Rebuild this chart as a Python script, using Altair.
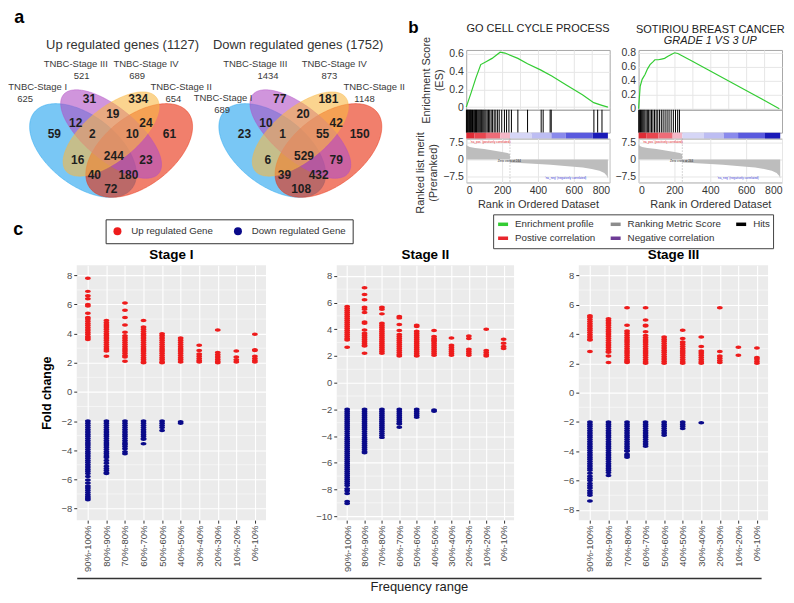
import altair as alt
import numpy as np
import pandas as pd

FONT = "Liberation Sans"

# ======================= DATA =======================
# ---- panel a : Venn diagrams
VENN_SETS = ["TNBC-Stage I", "TNBC-Stage III", "TNBC-Stage IV", "TNBC-Stage II"]
UP_SET_SIZES = [625, 521, 689, 654]
DOWN_SET_SIZES = [689, 1434, 873, 1148]
UP_REGION_COUNTS = [59, 31, 334, 61, 12, 19, 24, 2, 10, 244, 16, 23, 40, 180, 72]
DOWN_REGION_COUNTS = [23, 77, 181, 150, 10, 20, 42, 1, 55, 529, 6, 79, 39, 432, 108]
VENN_TITLES = ["Up regulated genes (1127)", "Down regulated genes (1752)"]

# ---- panel b : GSEA
GSEA1_TITLE = "GO CELL CYCLE PROCESS"
GSEA2_TITLE = "SOTIRIOU BREAST CANCER"
GSEA2_SUBTITLE = "GRADE 1 VS 3 UP"
ES1_RANK = [0, 27, 54, 81, 108, 144, 189, 216, 288, 342, 414, 477, 558, 648, 711, 757, 790]
ES1_SCORE = [0.0, 0.16, 0.33, 0.48, 0.51, 0.55, 0.62, 0.61, 0.55, 0.49, 0.42, 0.35, 0.25, 0.14, 0.05, 0.02, 0.0]
ES2_RANK = [0, 9, 20, 36, 50, 64, 80, 91, 110, 128, 145, 164, 185, 201, 219, 300, 400, 500, 600, 700, 785]
ES2_SCORE = [0.0, 0.32, 0.42, 0.49, 0.57, 0.63, 0.67, 0.70, 0.70, 0.71, 0.72, 0.75, 0.78, 0.80, 0.79,
             0.68, 0.54, 0.40, 0.26, 0.12, 0.0]
HITS1 = [1, 4, 8, 11, 15, 19, 23, 26, 30, 35, 39, 44, 48, 52, 57, 61, 66, 71, 76, 81, 86, 92, 98, 104,
         110, 117, 124, 131, 139, 147, 156, 165, 175, 184, 198, 213, 225, 238, 252, 288, 342, 418, 429,
         468, 474, 712, 733, 757]
HITS2 = [1, 6, 11, 17, 23, 29, 35, 42, 49, 56, 64, 72, 80, 89, 98, 107, 117, 127, 137, 148, 159, 170,
         182, 194, 206, 218, 228]
CBAR_START = [0, 45, 110, 190, 244, 365, 475, 555, 705]
CBAR_END = [45, 110, 190, 244, 365, 475, 555, 705, 790]
CBAR_LEVEL = [4, 3, 2, 1, -0.5, -1, -2, -3, -4]
METRIC_RANK = [0, 5, 20, 50, 100, 150, 200, 230, 243, 244, 300, 400, 470, 550, 650, 700, 743, 770, 785, 790]
METRIC_VALUE = [6.6, 6.0, 5.5, 5.0, 4.6, 3.9, 3.3, 2.8, 2.4, -1.4, -1.6, -2.0, -2.4, -2.9, -3.6, -4.2,
                -5.0, -6.0, -7.3, -8.5]
GSEA_LEGEND = ["Enrichment profile", "Ranking Metric Score", "Hits", "Postive correlation",
               "Negative correlation"]
GSEA_NOTES = ["'na_pos' (positively correlated)", "Zero cross at 244", "'na_neg' (negatively correlated)"]
NOTE_RANK = [135, 240, 555]
NOTE_METRIC = [7.6, -0.8, -8.4]

# ---- panel c : strip plots
FREQ_CATS = ["90%-100%", "80%-90%", "70%-80%", "60%-70%", "50%-60%", "40%-50%", "30%-40%",
             "20%-30%", "10%-20%", "0%-10%"]
GENE_TYPES = ["Up regulated Gene", "Down regulated Gene"]

STAGE1_UP = [
    [7.8, 6.9, 6.6, 6.4, 6.0, 5.9, 5.4, 5.1, 5.0, 4.85, 4.7, 4.55, 4.4, 4.25, 4.1, 3.95, 3.8, 3.7, 3.6],
    [4.9, 4.75, 4.6, 4.45, 4.3, 4.15, 4.0, 3.85, 3.7, 3.55, 3.4, 3.25, 3.1, 2.95, 2.8, 2.45],
    [6.1, 5.6, 5.1, 4.6, 4.1, 3.85, 3.7, 3.55, 3.4, 3.25, 3.1, 2.95, 2.8, 2.65, 2.5, 2.4, 2.1],
    [4.9, 4.45, 4.3, 4.15, 4.0, 3.85, 3.7, 3.55, 3.4, 3.25, 3.1, 2.95, 2.8, 2.65, 2.5, 2.35, 2.2, 2.05, 2.0],
    [4.0, 3.85, 3.7, 3.55, 3.4, 3.25, 3.1, 2.95, 2.8, 2.65, 2.5, 2.35, 2.2, 2.05, 2.0],
    [3.7, 3.55, 3.4, 3.25, 3.1, 2.95, 2.8, 2.65, 2.5, 2.35, 2.2, 2.05],
    [3.2, 2.85, 2.6, 2.45, 2.3, 2.15, 2.05],
    [4.25, 2.7, 2.55, 2.4, 2.25, 2.1, 2.0],
    [2.8, 2.4, 2.2, 2.05],
    [3.95, 2.9, 2.85, 2.45, 2.3, 2.15, 2.05],
]
STAGE1_DOWN = [
    [-2.0, -2.15, -2.3, -2.45, -2.6, -2.75, -2.9, -3.05, -3.2, -3.35, -3.5, -3.65, -3.8, -3.95, -4.1,
     -4.25, -4.4, -4.55, -4.7, -4.85, -5.0, -5.15, -5.3, -5.45, -5.6, -5.8, -6.05, -6.25, -6.45, -6.6,
     -6.75, -6.9, -7.05, -7.2, -7.3, -7.4],
    [-2.0, -2.15, -2.3, -2.45, -2.6, -2.75, -2.9, -3.05, -3.2, -3.35, -3.5, -3.65, -3.8, -3.95, -4.1,
     -4.25, -4.4, -4.5, -4.7, -4.9, -5.1, -5.25, -5.4, -5.55, -5.6],
    [-2.0, -2.15, -2.3, -2.45, -2.6, -2.75, -2.9, -3.05, -3.2, -3.35, -3.5, -3.6, -3.75, -3.9, -4.1, -4.25],
    [-2.0, -2.15, -2.3, -2.45, -2.6, -2.75, -2.9, -3.05, -3.2, -3.25, -3.55],
    [-2.0, -2.15, -2.3, -2.45, -2.65],
    [-2.05, -2.15],
    [], [], [], [],
]
STAGE2_UP = [
    [5.7, 5.55, 5.4, 5.25, 5.1, 4.95, 4.8, 4.65, 4.5, 4.35, 4.2, 4.05, 3.9, 3.75, 3.6, 3.45, 3.3, 3.2, 2.65],
    [7.1, 6.6, 6.2, 5.65, 5.5, 5.25, 4.55, 4.45, 3.95, 3.7, 3.55, 3.4, 3.25, 3.1, 2.95, 2.8, 2.75, 2.2],
    [5.65, 5.5, 5.15, 4.45, 4.3, 4.15, 4.0, 3.85, 3.7, 3.55, 3.4, 3.25, 3.1, 2.95, 2.8, 2.65, 2.5, 2.35, 2.2],
    [4.95, 4.85, 4.35, 3.9, 3.6, 3.45, 3.3, 3.15, 3.0, 2.85, 2.7, 2.55, 2.4, 2.25, 2.1, 2.0],
    [4.3, 4.2, 3.85, 3.7, 3.55, 3.4, 3.25, 3.1, 2.95, 2.8, 2.65, 2.5, 2.35, 2.2, 2.05, 2.0],
    [3.9, 3.45, 3.3, 3.2, 3.1, 2.95, 2.8, 2.65, 2.5, 2.35, 2.2, 2.05],
    [3.35, 2.8, 2.65, 2.5, 2.35, 2.2, 2.05],
    [3.5, 3.3, 2.5, 2.35, 2.2, 2.05],
    [4.0, 2.4, 2.25, 2.1, 2.0],
    [3.25, 2.95, 2.7, 2.55],
]
STAGE2_DOWN = [
    [-2.0, -2.15, -2.3, -2.45, -2.6, -2.75, -2.9, -3.05, -3.2, -3.35, -3.5, -3.65, -3.8, -3.95, -4.1,
     -4.25, -4.4, -4.55, -4.7, -4.85, -5.0, -5.15, -5.3, -5.45, -5.6, -5.75, -5.9, -6.05, -6.2, -6.35,
     -6.5, -6.65, -6.8, -6.95, -7.1, -7.25, -7.4, -7.55, -7.7, -7.95, -8.1, -8.3, -8.9, -9.05],
    [-2.0, -2.15, -2.3, -2.45, -2.6, -2.75, -2.9, -3.05, -3.2, -3.35, -3.5, -3.65, -3.8, -3.95, -4.1,
     -4.25, -4.4, -4.55, -4.7, -4.85, -5.0, -5.15, -5.25],
    [-2.0, -2.15, -2.3, -2.45, -2.6, -2.75, -2.9, -3.05, -3.2, -3.35, -3.5, -3.65, -3.8, -3.95, -4.1],
    [-2.0, -2.15, -2.3, -2.45, -2.6, -2.75, -2.9, -3.05, -3.1, -3.35],
    [-2.0, -2.15, -2.3, -2.45, -2.6],
    [-2.05, -2.15],
    [], [], [], [],
]
STAGE3_UP = [
    [5.25, 5.15, 5.0, 4.85, 4.7, 4.55, 4.4, 4.25, 4.1, 3.95, 3.8, 3.65, 3.6, 2.8],
    [5.05, 4.9, 4.75, 4.6, 4.45, 4.3, 4.15, 4.0, 3.85, 3.7, 3.55, 3.4, 3.25, 3.1, 2.95, 2.8, 2.75, 2.5, 2.05],
    [5.8, 4.6, 4.2, 4.05, 3.9, 3.75, 3.6, 3.45, 3.3, 3.15, 3.0, 2.85, 2.7, 2.55, 2.4, 2.25, 2.15, 2.05],
    [5.8, 4.95, 4.6, 4.55, 4.15, 3.9, 3.75, 3.6, 3.45, 3.3, 3.15, 3.0, 2.85, 2.7, 2.55, 2.4, 2.25, 2.1, 2.0],
    [3.8, 3.65, 3.5, 3.35, 3.2, 3.05, 2.9, 2.75, 2.6, 2.45, 2.3, 2.15, 2.0],
    [4.25, 3.7, 3.45, 3.3, 3.15, 3.0, 2.85, 2.7, 2.55, 2.4, 2.25, 2.1, 2.0],
    [3.8, 3.15, 2.85, 2.7, 2.55, 2.4, 2.25, 2.1, 2.0],
    [5.8, 2.8, 2.5, 2.35, 2.2, 2.05],
    [3.1, 2.55],
    [3.05, 2.4, 2.3, 2.15, 2.0],
]
STAGE3_DOWN = [
    [-2.0, -2.15, -2.3, -2.45, -2.6, -2.75, -2.9, -3.05, -3.2, -3.35, -3.5, -3.65, -3.8, -3.95, -4.1,
     -4.25, -4.4, -4.55, -4.7, -4.85, -5.0, -5.15, -5.3, -5.5, -5.7, -5.85, -6.0, -6.2, -6.35, -6.5,
     -6.7, -6.85, -7.0, -7.4],
    [-2.0, -2.15, -2.3, -2.45, -2.6, -2.75, -2.9, -3.05, -3.2, -3.35, -3.5, -3.65, -3.8, -3.95, -4.1,
     -4.25, -4.4, -4.55, -4.7, -4.85, -5.0, -5.15, -5.3, -5.45, -5.65],
    [-2.0, -2.15, -2.3, -2.45, -2.6, -2.75, -2.9, -3.05, -3.2, -3.35, -3.5, -3.65, -3.8, -3.95, -4.0,
     -4.2, -4.3, -4.4],
    [-2.0, -2.15, -2.3, -2.45, -2.6, -2.75, -2.9, -3.05, -3.2, -3.35, -3.5, -3.65],
    [-2.0, -2.15, -2.3, -2.45, -2.6, -2.75, -2.9],
    [-2.0, -2.15, -2.3, -2.45],
    [-2.05],
    [], [], [],
]

# ======================= LAYOUT / STYLE =======================
# Venn geometry: VennDiagram quad layout in the unit square (cx, cy, a, b, rotation)
ELLIPSES = {
    "TNBC-Stage I": (0.35, 0.47, 0.35, 0.20, 135),
    "TNBC-Stage II": (0.65, 0.47, 0.35, 0.20, 45),
    "TNBC-Stage III": (0.50, 0.57, 0.35, 0.15, 135),
    "TNBC-Stage IV": (0.50, 0.57, 0.33, 0.15, 45),
}
VENN_COLORS = ["#1FA2EF", "#B04FC4", "#F8B845", "#E82A0A"]
VENN_OFFSETS = [0, 194]
REGION_XY = [(46, 124), (82, 89), (132, 89), (164, 124), (68, 113), (106, 104), (140, 113), (85, 124),
             (126, 124), (107, 146), (70, 150), (140, 150), (87, 166), (122, 166), (104, 180)]
REGION_DX = 195
SET_NAME_XY = [[(29, 77), (68, 54), (140, 54), (176, 77)], [(219, 88), (252, 54), (333, 54), (374, 77)]]
SET_SIZE_XY = [[(16, 89), (74, 66), (131, 66), (168, 89)], [(218, 100), (265, 66), (328, 66), (364, 89)]]
VENN_TITLE_XY = [(116, 35), (296, 35)]
PA_X0, PA_X1, PA_Y0, PA_Y1 = 69, 406, 40, 195   # panel-a frame (aligned with Stage I / GSEA plot origins)

GSEA_COLORS = ["#33CC33", "#8C8C8C", "#000000", "#E8252C", "#6E3C96"]
CBAR_DOMAIN = [-4, -3, -2, -1, -0.5, 1, 2, 3, 4]
CBAR_RANGE = ["#1A1AB8", "#5A5ADE", "#8A8AEC", "#BDBDF2", "#D6D6F6", "#F4B6C6", "#EE6C78", "#E8464F",
              "#DE2C36"]
GENE_COLORS = ["#EE1C1C", "#0A0A8A"]
DOT = "M -1 0 A 1 0.6 0 1 1 1 0 A 1 0.6 0 1 1 -1 0 Z"

# ======================= PANEL A =======================
ell_rows = []
for vi, off in enumerate(VENN_OFFSETS):
    for name in ["TNBC-Stage I", "TNBC-Stage II", "TNBC-Stage III", "TNBC-Stage IV"]:
        cx, cy, a, b, rot = ELLIPSES[name]
        t = np.radians(rot)
        c, s = np.cos(t), np.sin(t)
        hw = np.sqrt(a * a * c * c + b * b * s * s)
        A = s * s / (a * a) + c * c / (b * b)
        for phi in np.linspace(np.pi, 0, 121):
            dx = hw * np.cos(phi)
            B = 2 * dx * c * s * (1 / (a * a) - 1 / (b * b))
            C = dx * dx * (c * c / (a * a) + s * s / (b * b)) - 1
            r = np.sqrt(max(B * B - 4 * A * C, 0.0))
            hi = (-B + r) / (2 * A)
            lo = (-B - r) / (2 * A)
            ell_rows.append({
                "key": f"{vi}-{name}", "set": name,
                "x": 20.7 + (cx + dx - 0.065) * 192 + off,
                "y": 80 + (0.839 - (cy + hi)) * 165,
                "y2": 80 + (0.839 - (cy + lo)) * 165,
            })
ell_df = pd.DataFrame(ell_rows)

count_rows = []
for vi, counts in enumerate([UP_REGION_COUNTS, DOWN_REGION_COUNTS]):
    for (px, py), n in zip(REGION_XY, counts):
        count_rows.append({"x": px + vi * REGION_DX, "y": py, "t": str(n)})
count_df = pd.DataFrame(count_rows)

lab_rows = []
for vi, sizes in enumerate([UP_SET_SIZES, DOWN_SET_SIZES]):
    for k, (name, size) in enumerate(zip(VENN_SETS, sizes)):
        lab_rows.append({"x": SET_NAME_XY[vi][k][0], "y": SET_NAME_XY[vi][k][1], "t": name})
        lab_rows.append({"x": SET_SIZE_XY[vi][k][0], "y": SET_SIZE_XY[vi][k][1], "t": str(size)})
lab_df = pd.DataFrame(lab_rows)
vt_df = pd.DataFrame({"x": [p[0] for p in VENN_TITLE_XY], "y": [p[1] for p in VENN_TITLE_XY],
                      "t": VENN_TITLES})

vx = alt.Scale(domain=[PA_X0, PA_X1], nice=False, zero=False)
vy = alt.Scale(domain=[PA_Y0, PA_Y1], nice=False, zero=False, reverse=True)

ell_layer = alt.Chart(ell_df).mark_area(fillOpacity=0.6, strokeWidth=0.8, strokeOpacity=0.55,
                                        interpolate="linear").encode(
    x=alt.X("x:Q", scale=vx, axis=None),
    y=alt.Y("y:Q", scale=vy, axis=None),
    y2="y2:Q",
    color=alt.Color("set:N", scale=alt.Scale(domain=VENN_SETS, range=VENN_COLORS), legend=None),
    stroke=alt.Stroke("set:N", scale=alt.Scale(domain=VENN_SETS, range=VENN_COLORS), legend=None),
    detail="key:N",
)
count_layer = alt.Chart(count_df).mark_text(fontSize=12, fontWeight="bold", color="#1E1E1E").encode(
    x=alt.X("x:Q", scale=vx, axis=None), y=alt.Y("y:Q", scale=vy, axis=None), text="t:N")
lab_layer = alt.Chart(lab_df).mark_text(fontSize=9.5, color="#3A3A3A").encode(
    x=alt.X("x:Q", scale=vx, axis=None), y=alt.Y("y:Q", scale=vy, axis=None), text="t:N")
vt_layer = alt.Chart(vt_df).mark_text(fontSize=13, color="#333333").encode(
    x=alt.X("x:Q", scale=vx, axis=None), y=alt.Y("y:Q", scale=vy, axis=None), text="t:N")

panel_a = alt.layer(ell_layer, count_layer, lab_layer, vt_layer).properties(
    width=round((PA_X1 - PA_X0) * 0.98), height=PA_Y1 - PA_Y0,
    title=alt.TitleParams("a", anchor="start", fontSize=18, fontWeight="bold", dx=6, offset=12,
                          color="black"),
)

# ======================= PANEL B =======================
xsc = alt.Scale(domain=[0, 800], nice=False, zero=False)
GRID = "#E6E6E6"
FRAME = alt.ViewBackground(stroke="#A8A8A8", strokeWidth=1)
gsea_legend = alt.Legend(orient="none", legendX=27, legendY=165, direction="horizontal", columns=3,
                         title=None, symbolType="stroke", symbolStrokeWidth=3.5, symbolSize=100,
                         labelFontSize=9.8, labelColor="#333333", labelOffset=5, columnPadding=8,
                         rowPadding=-2, padding=3, strokeColor="#444444", fillColor="white",
                         labelLimit=200)
gsea_color = alt.Scale(domain=GSEA_LEGEND, range=GSEA_COLORS)

cbar_df = pd.DataFrame({"start": CBAR_START, "end": CBAR_END, "level": CBAR_LEVEL})
metric_df = pd.DataFrame({"rank": METRIC_RANK, "metric": METRIC_VALUE})
note_df = pd.DataFrame({"rank": NOTE_RANK, "metric": NOTE_METRIC, "t": GSEA_NOTES,
                        "c": ["#E8252C", "#222222", "#3A3AD8"]})


def gsea_panel(es_rank, es_score, hits, es_dom, es_vals, title, subtitle, width, show_titles):
    es_df = pd.DataFrame({"rank": es_rank, "es": es_score, "series": GSEA_LEGEND[0]})
    yax = dict(values=es_vals, labelExpr="datum.value == 0 ? '0' : format(datum.value, '.1f')",
               ticks=False, domain=False, grid=True, gridColor=GRID, labelFontSize=10.5,
               labelColor="#333333", labelPadding=3)
    if show_titles:
        yax.update(title=["Enrichment Score", "(ES)"], titleFontSize=11, titleFontWeight="normal",
                   titleColor="#333333", titlePadding=4)
    else:
        yax["title"] = None
    tkw = dict(fontSize=11, fontWeight="normal", color="#222222", anchor="middle", frame="group",
               offset=2, lineHeight=11)
    if subtitle:
        tkw.update(subtitle=subtitle, subtitleFontSize=11, subtitleColor="#222222",
                   subtitleFontStyle="italic", subtitlePadding=0, subtitleLineHeight=11)
    es = alt.Chart(es_df).mark_line(strokeWidth=1.2).encode(
        x=alt.X("rank:Q", scale=xsc, axis=alt.Axis(labels=False, ticks=False, domain=False, grid=True,
                                                   gridColor=GRID, values=[100, 200, 300, 400, 500, 600, 700],
                                                   title=None)),
        y=alt.Y("es:Q", scale=alt.Scale(domain=es_dom, nice=False, zero=False), axis=alt.Axis(**yax)),
        color=alt.Color("series:N", scale=gsea_color, legend=gsea_legend),
    ).properties(width=width, height=60, view=FRAME, title=alt.TitleParams(title, **tkw))
    hit = alt.Chart(pd.DataFrame({"rank": hits})).mark_rule(color="black", strokeWidth=1).encode(
        x=alt.X("rank:Q", scale=xsc, axis=None)).properties(width=width, height=23, view=FRAME)
    cbar = alt.Chart(cbar_df).mark_rect().encode(
        x=alt.X("start:Q", scale=xsc, axis=None), x2="end:Q",
        fill=alt.Fill("level:Q", scale=alt.Scale(domain=CBAR_DOMAIN, range=CBAR_RANGE), legend=None),
    ).properties(width=width, height=6)
    rax = dict(values=[-7.5, 0, 7.5], labelExpr="datum.value == 0 ? '0' : format(datum.value, '.1f')",
               ticks=False, domain=False, grid=True, gridColor=GRID, labelFontSize=10.5,
               labelColor="#333333", labelPadding=3)
    if show_titles:
        rax.update(title=["Ranked list merit", "(Preranked)"], titleFontSize=11, titleFontWeight="normal",
                   titleColor="#333333", titlePadding=4, titleY=34)
    else:
        rax["title"] = None
    rx = alt.X("rank:Q", scale=xsc,
               axis=alt.Axis(values=[0, 200, 400, 600, 800], ticks=False, domain=False, grid=True,
                             gridColor=GRID, labelFontSize=10.5, labelColor="#333333", labelPadding=3,
                             title="Rank in Ordered Dataset", titleFontSize=11, titleFontWeight="normal",
                             titleColor="#333333", titlePadding=3))
    ry = alt.Scale(domain=[-10.2, 9.2], nice=False, zero=False)
    area = alt.Chart(metric_df).mark_area(color="#BDBDBD", interpolate="linear").encode(
        x=rx, y=alt.Y("metric:Q", scale=ry, axis=alt.Axis(**rax)), y2=alt.datum(0))
    zero = alt.Chart(pd.DataFrame({"rank": [244]})).mark_rule(color="#9A9A9A", strokeDash=[1, 2],
                                                              strokeWidth=0.8).encode(x=rx)
    notes = alt.Chart(note_df).mark_text(fontSize=3).encode(
        x=rx, y=alt.Y("metric:Q", scale=ry, axis=alt.Axis(**rax)), text="t:N",
        fill=alt.Fill("c:N", scale=None))
    ranked = alt.layer(area, zero, notes).properties(width=width, height=44, view=FRAME)
    return alt.vconcat(es, hit, cbar, ranked, spacing=0, bounds="flush")


gsea1 = gsea_panel(ES1_RANK, ES1_SCORE, HITS1, [-0.03, 0.645], [0, 0.2, 0.4, 0.6], GSEA1_TITLE, None,
                   144, True)
gsea2 = gsea_panel(ES2_RANK, ES2_SCORE, HITS2, [-0.015, 0.84], [0, 0.2, 0.4, 0.6, 0.8], GSEA2_TITLE,
                   GSEA2_SUBTITLE, 144, False)
panel_b = alt.hconcat(gsea1, gsea2, spacing=2).properties(
    title=alt.TitleParams("b", anchor="start", fontSize=17, fontWeight="bold", offset=-14, dx=-6,
                          color="black"))

top_row = alt.hconcat(panel_a, panel_b, spacing=2).resolve_scale(color="independent")

# ======================= PANEL C =======================
stage_legend = alt.Legend(orient="none", legendX=29, legendY=-46, direction="horizontal", title=None,
                          symbolType="circle", symbolSize=64, symbolStrokeWidth=0, labelFontSize=9.7,
                          labelColor="#333333", labelOffset=9, columnPadding=20, padding=7,
                          strokeColor="#333333", fillColor="white")


def stage_chart(name, up, down, ydom, yvals, minor, width, ytitle):
    rows = []
    for cat, vals in zip(FREQ_CATS, up):
        rows += [{"freq": cat, "fc": v, "type": GENE_TYPES[0]} for v in vals]
    for cat, vals in zip(FREQ_CATS, down):
        rows += [{"freq": cat, "fc": v, "type": GENE_TYPES[1]} for v in vals]
    df = pd.DataFrame(rows)
    mdf = pd.DataFrame({"fc": minor})
    ysc = alt.Scale(domain=ydom, nice=False, zero=False)
    yax = dict(values=yvals, labelFontSize=9.5, labelColor="#4D4D4D", tickColor="#333333", tickSize=3,
               domain=False, grid=True, gridColor="white", gridWidth=1.1, labelPadding=2)
    if ytitle:
        yax.update(title=ytitle, titleFontSize=12.5, titleFontWeight="bold", titleColor="black",
                   titlePadding=8)
    else:
        yax["title"] = None
    yenc = alt.Y("fc:Q", scale=ysc, axis=alt.Axis(**yax))
    minor_rules = alt.Chart(mdf).mark_rule(color="white", strokeWidth=0.5).encode(y=yenc)
    pts = alt.Chart(df).mark_point(shape=DOT, filled=True, size=34, opacity=1, strokeWidth=0).encode(
        x=alt.X("freq:N", sort=FREQ_CATS, scale=alt.Scale(type="point", domain=FREQ_CATS, padding=0.6),
                axis=alt.Axis(labelAngle=-90, labelAlign="right", labelBaseline="middle", labelFontSize=9.5,
                              labelColor="#4D4D4D", tickColor="#333333", tickSize=3, domain=False,
                              grid=True, gridColor="white", gridWidth=1.1, labelPadding=2, title=None)),
        y=yenc,
        color=alt.Color("type:N", scale=alt.Scale(domain=GENE_TYPES, range=GENE_COLORS), legend=stage_legend),
    )
    return alt.layer(minor_rules, pts).properties(
        width=width, height=256, view=alt.ViewBackground(fill="#EBEBEB", strokeWidth=0),
        title=alt.TitleParams(name, fontSize=13.5, fontWeight="bold", anchor="middle", frame="group",
                              offset=4, color="black"))


ODD8 = [-7, -5, -3, -1, 1, 3, 5, 7]
st1 = stage_chart("Stage I", STAGE1_UP, STAGE1_DOWN, [-8.8, 8.7], [-8, -6, -4, -2, 0, 2, 4, 6, 8], ODD8,
                  190, "Fold change")
st2 = stage_chart("Stage II", STAGE2_UP, STAGE2_DOWN, [-10.3, 8.8], [-10, -8, -6, -4, -2, 0, 2, 4, 6, 8],
                  [-9] + ODD8, 178, None)
st3 = stage_chart("Stage III", STAGE3_UP, STAGE3_DOWN, [-8.7, 8.7], [-8, -6, -4, -2, 0, 2, 4, 6, 8], ODD8,
                  190, None)
stages_row = alt.hconcat(st1, st2, st3, spacing=48)

footer = alt.Chart(pd.DataFrame({"x": [0.5], "y": [0.5]})).mark_point(opacity=0).encode(
    x=alt.X("x:Q", scale=alt.Scale(domain=[0, 1]),
            axis=alt.Axis(labels=False, ticks=False, grid=False, domain=True, domainColor="#333333",
                          domainWidth=1.6, title="Frequency range", titleFontSize=13,
                          titleFontWeight="normal", titleColor="#222222", titlePadding=3)),
    y=alt.Y("y:Q", scale=alt.Scale(domain=[0, 1]), axis=None),
).properties(width=687, height=1)

bottom = alt.vconcat(stages_row, footer, spacing=2).properties(
    title=alt.TitleParams("c", anchor="start", fontSize=18, fontWeight="bold", offset=-20, dx=-27,
                          color="black"))

chart = alt.vconcat(top_row, bottom, spacing=-31).resolve_scale(color="independent").properties(
    padding={"left": 0, "top": 0, "right": 0, "bottom": 0}
).configure(font=FONT).configure_view(strokeWidth=0)

chart.save("out.html", embed_options={"renderer": "svg", "actions": False})
